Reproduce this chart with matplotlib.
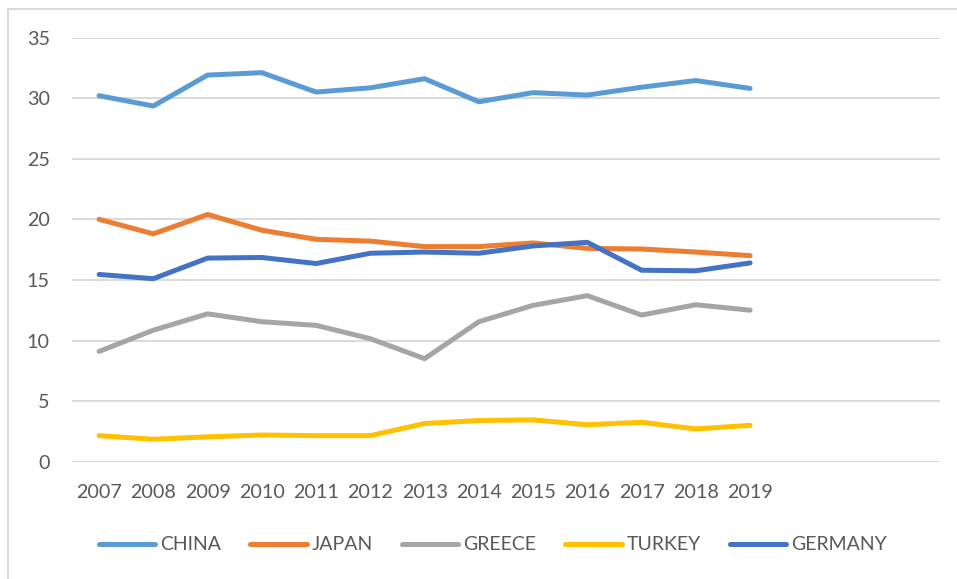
import matplotlib.pyplot as plt
from matplotlib.lines import Line2D
import numpy as np

years = ['2007', '2008', '2009', '2010', '2011', '2012', '2013',
         '2014', '2015', '2016', '2017', '2018', '2019']
n_categories = 16  # axis keeps 3 empty categories after 2019

china = [30.2, 29.35, 31.9, 32.1, 30.5, 30.85, 31.6, 29.7, 30.45, 30.25, 30.9, 31.45, 30.8]
japan = [20.0, 18.8, 20.4, 19.1, 18.35, 18.2, 17.75, 17.75, 18.05, 17.6, 17.55, 17.3, 17.0]
greece = [9.1, 10.85, 12.2, 11.55, 11.25, 10.15, 8.5, 11.55, 12.9, 13.7, 12.1, 12.95, 12.5]
turkey = [2.15, 1.85, 2.05, 2.2, 2.15, 2.15, 3.15, 3.4, 3.45, 3.05, 3.25, 2.7, 3.0]
germany = [15.45, 15.1, 16.8, 16.85, 16.35, 17.2, 17.3, 17.2, 17.8, 18.1, 15.8, 15.75, 16.4]

series = [('CHINA', china, '#5B9BD5'),
          ('JAPAN', japan, '#ED7D31'),
          ('GREECE', greece, '#A5A5A5'),
          ('TURKEY', turkey, '#FFC000'),
          ('GERMANY', germany, '#4472C4')]

plt.rcParams['font.family'] = ['Lato', 'DejaVu Sans']
txt = '#595959'
grid = '#D9D9D9'

fig = plt.figure(figsize=(9.57, 5.79), dpi=100)
ax = fig.add_axes([0.0752, 0.2026, 0.9070, 0.7326])

x = np.arange(len(years))
for name, vals, col in series:
    ax.plot(x, vals, color=col, lw=3.6, label=name,
            solid_capstyle='round', solid_joinstyle='round')

ax.set_xlim(-0.5, n_categories - 0.5)
ax.set_ylim(0, 35)
ax.set_yticks(range(0, 36, 5))
ax.set_xticks(x)
ax.set_xticklabels(years)
ax.tick_params(length=0, labelsize=14.2, colors=txt)
ax.tick_params(axis='x', pad=16)
ax.tick_params(axis='y', pad=16)
ax.yaxis.grid(True, color=grid, lw=1.4)
ax.set_axisbelow(True)
for s in ax.spines.values():
    s.set_visible(False)

leg = fig.legend(loc='center', bbox_to_anchor=(0.515, 1 - 545 / 579), ncol=5,
                 frameon=False, fontsize=14, handlelength=2.9,
                 handletextpad=0.25, columnspacing=1.5)
for t in leg.get_texts():
    t.set_color(txt)

# chart area border (top and left edges only visible)
fig.add_artist(Line2D([8 / 957, 1], [1 - 8.5 / 579] * 2, color=grid, lw=1.5,
                      transform=fig.transFigure))
fig.add_artist(Line2D([8 / 957] * 2, [0, 1 - 8.5 / 579], color=grid, lw=1.5,
                      transform=fig.transFigure))

fig.savefig('out.png', dpi=100)
